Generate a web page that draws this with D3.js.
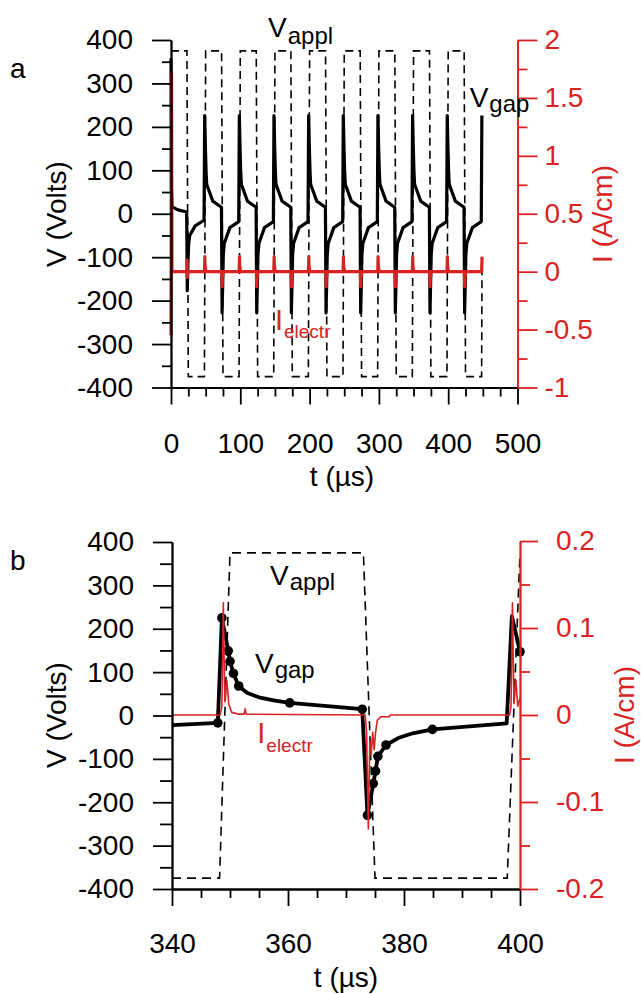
<!DOCTYPE html>
<html><head><meta charset="utf-8">
<script src="https://cdn.jsdelivr.net/npm/d3@7"></script>
<style>
body{margin:0;background:#fff;}
svg{display:block;font-family:"Liberation Sans",Arial,sans-serif;}
</style></head><body>
<svg id="c" width="641" height="994"></svg>
<script>
// ---------------- DATA ----------------
// Panel a: applied voltage (t in us, V)
const vapplA = [[0,375],[23,375],[25,-375],[48.2,-375],[50,375],[73,375],[75,-375],[98.2,-375],[100,375],[123,375],[125,-375],[148.2,-375],[150,375],[173,375],[175,-375],[198.2,-375],[200,375],[223,375],[225,-375],[248.2,-375],[250,375],[273,375],[275,-375],[298.2,-375],[300,375],[323,375],[325,-375],[348.2,-375],[350,375],[373,375],[375,-375],[398.2,-375],[400,375],[423,375],[425,-375],[448.2,-375],[448.8,-130]];
// Panel a: gap voltage
const vgapA = [[0,358],[0.6,60],[1.5,16],[10,9],[22.6,4],
[23.5,-177],[24.5,-110],[25.6,-68],[27,-50],[34.9,-28],[47.7,-15],
[48.6,226],[49.7,149],[50.6,97],[51.5,68],[60.3,29],[72.8,15],
[73.7,-228],[74.7,-157],[75.5,-94],[76.9,-68],[84.9,-32],[97.7,-18],
[98.6,226],[99.7,149],[100.6,97],[101.5,68],[110.3,29],[122.8,15],
[123.7,-228],[124.7,-157],[125.5,-94],[126.9,-68],[134.9,-32],[147.7,-18],
[148.6,226],[149.7,149],[150.6,97],[151.5,68],[160.3,29],[172.8,15],
[173.7,-228],[174.7,-157],[175.5,-94],[176.9,-68],[184.9,-32],[197.7,-18],
[198.6,226],[199.7,149],[200.6,97],[201.5,68],[210.3,29],[222.8,15],
[223.7,-228],[224.7,-157],[225.5,-94],[226.9,-68],[234.9,-32],[247.7,-18],
[248.6,226],[249.7,149],[250.6,97],[251.5,68],[260.3,29],[272.8,15],
[273.7,-228],[274.7,-157],[275.5,-94],[276.9,-68],[284.9,-32],[297.7,-18],
[298.6,226],[299.7,149],[300.6,97],[301.5,68],[310.3,29],[322.8,15],
[323.7,-228],[324.7,-157],[325.5,-94],[326.9,-68],[334.9,-32],[347.7,-18],
[348.6,226],[349.7,149],[350.6,97],[351.5,68],[360.3,29],[372.8,15],
[373.7,-228],[374.7,-157],[375.5,-94],[376.9,-68],[384.9,-32],[397.7,-18],
[398.6,226],[399.7,149],[400.6,97],[401.5,68],[410.3,29],[422.8,15],
[423.7,-228],[424.7,-157],[425.5,-94],[426.9,-68],[434.9,-32],[447.7,-18],
[448.6,226]];
// Panel a: electrode current (A/cm)
const ielA = [[0,-0.55],[0.7,1.71],[1.4,0],[22.9,0],[23.2,0.1],[23.6,-0.05],[24.2,0],
[48.3,0],[48.85,0.13],[49.2,0.02],[49.5,0.04],[50.3,0],
[73.3,0],[73.85,-0.13],[74.2,-0.03],[74.6,-0.04],[75.5,0],
[98.3,0],[98.85,0.13],[99.2,0.02],[99.5,0.04],[100.3,0],
[123.3,0],[123.85,-0.13],[124.2,-0.03],[124.6,-0.04],[125.5,0],
[148.3,0],[148.85,0.13],[149.2,0.02],[149.5,0.04],[150.3,0],
[173.3,0],[173.85,-0.13],[174.2,-0.03],[174.6,-0.04],[175.5,0],
[198.3,0],[198.85,0.13],[199.2,0.02],[199.5,0.04],[200.3,0],
[223.3,0],[223.85,-0.13],[224.2,-0.03],[224.6,-0.04],[225.5,0],
[248.3,0],[248.85,0.13],[249.2,0.02],[249.5,0.04],[250.3,0],
[273.3,0],[273.85,-0.13],[274.2,-0.03],[274.6,-0.04],[275.5,0],
[298.3,0],[298.85,0.13],[299.2,0.02],[299.5,0.04],[300.3,0],
[323.3,0],[323.85,-0.13],[324.2,-0.03],[324.6,-0.04],[325.5,0],
[348.3,0],[348.85,0.13],[349.2,0.02],[349.5,0.04],[350.3,0],
[373.3,0],[373.85,-0.13],[374.2,-0.03],[374.6,-0.04],[375.5,0],
[398.3,0],[398.85,0.13],[399.2,0.02],[399.5,0.04],[400.3,0],
[423.3,0],[423.85,-0.13],[424.2,-0.03],[424.6,-0.04],[425.5,0],
[448.3,0],[448.85,0.13]];

// Panel b
const vapplB = [[340,-375],[348.2,-375],[350,375],[373,375],[375,-375],[397.8,-375],[400,375]];
const vgapB = [[340,-22],[347.9,-17],[348.6,225],[349.7,149],[350.0,125],[350.6,97],[351.5,68],[353,52],[355,42],[357.5,35],[360.3,29],[372.8,14.5],
[373.7,-230],[374.7,-157],[375.1,-128],[375.5,-94],[376.9,-68],[379,-52],[381.5,-41],[384.9,-32],[397.7,-18],[398.6,229],[400,147]];
const vgapBDots = [[347.9,-17],[348.6,225],[349.7,149],[350.0,125],[350.6,97],[351.5,68],[360.3,29],[372.8,14.5],
[373.7,-230],[374.7,-157],[375.1,-128],[375.5,-94],[376.9,-68],[384.9,-32],[400,147]];
const ielB = [[340,0],[348.3,0],[348.6,0.01],[348.85,0.129],[349.1,0.015],[349.45,0.04],[349.8,0.012],[350.3,0.003],[351.5,0.001],[352.45,0.001],[352.6,0.007],[352.8,0.001],
[373.3,0],[373.55,-0.02],[373.85,-0.131],[374.1,-0.03],[374.35,-0.045],[374.6,-0.02],[374.85,-0.04],[375.1,-0.02],[375.4,-0.006],[376,-0.002],[377.5,-0.002],[377.6,0],
[398.2,0],[398.45,0.01],[398.7,0.129],[398.95,0.013],[399.3,0.04],[399.6,0.01],[400,0.02]];

// Tick labels
const vTicks = [-400,-300,-200,-100,0,100,200,300,400];
const xTicksA = [0,100,200,300,400,500];
const iTicksA = [-1,-0.5,0,0.5,1,1.5,2];
const xTicksB = [340,360,380,400];
const iTicksB = [-0.2,-0.1,0,0.1,0.2];

// ---------------- DRAW ----------------
const RED = "#d92323";
const FS = 28;
const svg = d3.select("#c");

function styleAxis(g, color){
  g.attr("font-size", FS).attr("font-family", "'Liberation Sans', Arial, sans-serif");
  g.selectAll("path.domain").attr("stroke", color).attr("stroke-width", 1.8);
  g.selectAll(".tick line").attr("stroke", color).attr("stroke-width", 1.8);
  g.selectAll(".tick text").attr("fill", color);
}
const fmt = d => String(d);

function panel(o){
  const {x, y, yr, vappl, vgap, iel, xTicks, xMinor, vMinor, iTicks, iMinor, cfg} = o;
  const g = svg.append("g");
  const lineV = d3.line().x(d=>x(d[0])).y(d=>y(d[1]));
  const lineI = d3.line().x(d=>x(d[0])).y(d=>yr(d[1]));
  g.append("path").attr("d", lineV(vappl)).attr("fill","none").attr("stroke","#000")
    .attr("stroke-width",1.6).attr("stroke-dasharray",cfg.dash);
  g.append("path").attr("d", lineV(vgap)).attr("fill","none").attr("stroke","#000")
    .attr("stroke-width",cfg.gapW).attr("stroke-linejoin","round");
  if (o.dots) {
    g.selectAll("circle.d").data(o.dots).join("circle").attr("cx",d=>x(d[0])).attr("cy",d=>y(d[1]))
      .attr("r",4.8).attr("fill","#000");
  }
  g.append("path").attr("d", lineI(iel)).attr("fill","none").attr("stroke",RED)
    .attr("stroke-width",cfg.iW).attr("stroke-linejoin","round");

  const [y0] = y.range();
  const xl = x.range()[0], xr = x.range()[1];
  g.append("g").attr("transform",`translate(0,${y0})`)
    .call(d3.axisBottom(x).tickValues(xMinor).tickSize(cfg.xMinorLen).tickSizeOuter(0).tickFormat(""))
    .call(a=>styleAxis(a,"#000"));
  g.append("g").attr("transform",`translate(0,${y0})`)
    .call(d3.axisBottom(x).tickValues(xTicks).tickSize(cfg.xMajorLen).tickSizeOuter(0).tickPadding(cfg.xPad).tickFormat(fmt))
    .call(a=>styleAxis(a,"#000"));
  g.append("g").attr("transform",`translate(${xl},0)`)
    .call(d3.axisLeft(y).tickValues(vMinor).tickSize(cfg.yMinorLen).tickSizeOuter(0).tickFormat(""))
    .call(a=>styleAxis(a,"#000"));
  g.append("g").attr("transform",`translate(${xl},0)`)
    .call(d3.axisLeft(y).tickValues(vTicks).tickSize(19).tickSizeOuter(0).tickPadding(19).tickFormat(fmt))
    .call(a=>styleAxis(a,"#000"));
  g.append("g").attr("transform",`translate(${xr},0)`)
    .call(d3.axisRight(yr).tickValues(iMinor).tickSize(10).tickSizeOuter(0).tickFormat(""))
    .call(a=>styleAxis(a,RED));
  g.append("g").attr("transform",`translate(${xr},0)`)
    .call(d3.axisRight(yr).tickValues(iTicks).tickSize(cfg.rMajorLen).tickSizeOuter(0).tickPadding(cfg.rPad).tickFormat(fmt))
    .call(a=>styleAxis(a,RED));
  return g;
}

// Panel a scales
const xA = d3.scaleLinear().domain([0,500]).range([171,517.5]);
const yA = d3.scaleLinear().domain([-400,400]).range([387.5,40]);
const yAr = d3.scaleLinear().domain([-1,2]).range([387.5,40]);
panel({x:xA,y:yA,yr:yAr,vappl:vapplA,vgap:vgapA,iel:ielA,xTicks:xTicksA,
  xMinor:d3.range(25,500,25).filter(v=>v%100!==0),
  vMinor:d3.range(-350,400,100), iTicks:iTicksA, iMinor:d3.range(-0.75,2,0.5),
  cfg:{dash:"8,5",gapW:3.2,iW:3.2,xMinorLen:9,xMajorLen:17,xPad:29,yMinorLen:9,rMajorLen:20,rPad:7}});

// Panel b scales
const xB = d3.scaleLinear().domain([340,400]).range([172,520]);
const yB = d3.scaleLinear().domain([-400,400]).range([889,542]);
const yBr = d3.scaleLinear().domain([-0.2,0.2]).range([889,541]);
panel({x:xB,y:yB,yr:yBr,vappl:vapplB,vgap:vgapB,iel:ielB,dots:vgapBDots,xTicks:xTicksB,
  xMinor:d3.range(345,400,5).filter(v=>v%20!==0),
  vMinor:d3.range(-350,400,100), iTicks:iTicksB, iMinor:[-0.15,-0.05,0.05,0.15],
  cfg:{dash:"9,6",gapW:3.8,iW:1.6,xMinorLen:9,xMajorLen:17,xPad:27,yMinorLen:12,rMajorLen:18,rPad:18}});

// ---------------- TEXT ----------------
function sublabel(x0, y0, main, sub, color, mainSize, subSize, dy){
  const t = svg.append("text").attr("x",x0).attr("y",y0).attr("fill",color).attr("font-size",mainSize);
  t.append("tspan").text(main);
  t.append("tspan").attr("dx",1).attr("dy",dy).attr("font-size",subSize).text(sub);
}
sublabel(xA(140), yA(407), "V", "appl", "#000", 28, 24, 7);
sublabel(xA(431), yA(246), "V", "gap", "#000", 28, 24, 5);
sublabel(xA(150), yAr(-0.5), "I", "electr", RED, 29, 19, 8);
sublabel(xB(356.9), yB(301), "V", "appl", "#000", 28, 24, 5);
sublabel(xB(354.3), yB(98), "V", "gap", "#000", 28, 24, 5);
sublabel(xB(354.7), yBr(-0.032), "I", "electr", RED, 29, 19, 9);

function vtitle(x0, yc, txt, color){
  svg.append("text").attr("transform",`translate(${x0},${yc}) rotate(-90)`)
    .attr("text-anchor","middle").attr("font-size",FS).attr("fill",color).text(txt);
}
vtitle(66, 214, "V (Volts)", "#000");
vtitle(612, 214, "I (A/cm)", RED);
vtitle(66, 715, "V (Volts)", "#000");
vtitle(634, 715, "I (A/cm)", RED);
svg.append("text").attr("x",342).attr("y",486).attr("text-anchor","middle").attr("font-size",FS).text("t (\u00b5s)");
svg.append("text").attr("x",346).attr("y",987).attr("text-anchor","middle").attr("font-size",FS).text("t (\u00b5s)");
svg.append("text").attr("x",10).attr("y",78).attr("font-size",FS).text("a");
svg.append("text").attr("x",10).attr("y",570).attr("font-size",FS).text("b");
</script>
</body></html>
